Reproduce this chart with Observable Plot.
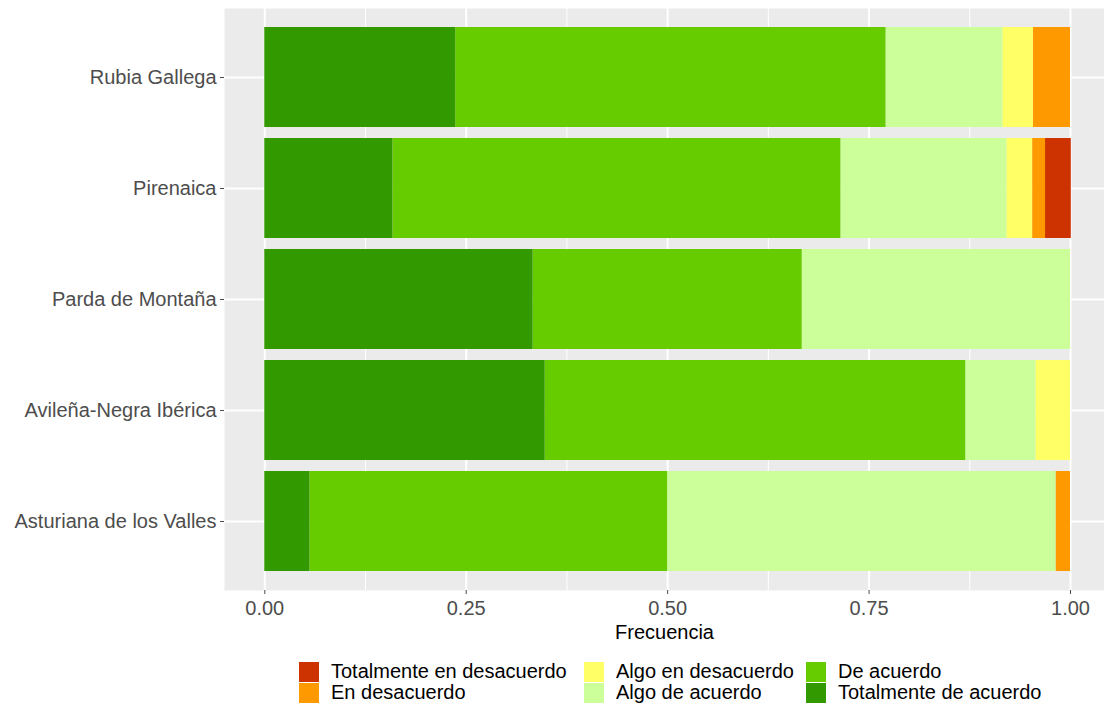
<!DOCTYPE html>
<html><head><meta charset="utf-8">
<script src="https://cdn.jsdelivr.net/npm/d3@7"></script>
<script src="https://cdn.jsdelivr.net/npm/@observablehq/plot@0.6"></script>
<style>
body{margin:0;background:#fff;width:1104px;height:704px;overflow:hidden;position:relative;font-family:"Liberation Sans",Arial,sans-serif;}
#chart{position:absolute;top:0;left:0;}
#legend{position:absolute;top:661px;left:299px;display:grid;grid-template-columns:285px 222px 280px;grid-auto-flow:column;grid-template-rows:21px 21px;}
.item{display:flex;align-items:center;font-size:20px;line-height:21px;color:#000;white-space:nowrap;}
.sw{width:20px;height:20px;margin-right:12px;flex:none;}
</style></head><body>
<div id="chart"></div><div id="legend"></div>
<script>
const breeds = ["Rubia Gallega","Pirenaica","Parda de Montaña","Avileña-Negra Ibérica","Asturiana de los Valles"];
const categories = ["Totalmente en desacuerdo","En desacuerdo","Algo en desacuerdo","Algo de acuerdo","De acuerdo","Totalmente de acuerdo"];
const colors = ["#CC3300","#FF9900","#FFFF66","#CCFF99","#66CC00","#339900"];
// frequencies per breed, in the order of `categories`
const rubiaGallega = [0, 0.046, 0.038, 0.145, 0.534, 0.237];
const pirenaica = [0.032, 0.016, 0.032, 0.206, 0.556, 0.159];
const pardaMontana = [0, 0, 0, 0.333, 0.334, 0.333];
const avilena = [0, 0, 0.043, 0.087, 0.522, 0.348];
const asturiana = [0, 0.018, 0, 0.482, 0.444, 0.056];
const xTicks = [0, 0.25, 0.5, 0.75, 1];
const xMinor = [0.125, 0.375, 0.625, 0.875];

const series = [rubiaGallega, pirenaica, pardaMontana, avilena, asturiana];
const data = [];
breeds.forEach((b, i) => categories.forEach((c, j) => {
  if (series[i][j] > 0) data.push({breed: b, cat: c, value: series[i][j]});
}));

const plot = Plot.plot({
  width: 1104,
  height: 655,
  marginLeft: 224,
  marginRight: 0,
  marginTop: 8,
  marginBottom: 65,
  style: {fontFamily: '"Liberation Sans", Arial, sans-serif', fontSize: "20px", background: "transparent"},
  x: {domain: [-0.05, 1.0422]},
  y: {domain: breeds, paddingInner: 0.1, paddingOuter: 0.15},
  color: {domain: categories, range: colors},
  marks: [
    Plot.frame({fill: "#EBEBEB", stroke: null}),
    Plot.gridX(xMinor, {stroke: "#fff", strokeOpacity: 1, strokeWidth: 1}),
    Plot.gridX(xTicks, {stroke: "#fff", strokeOpacity: 1, strokeWidth: 2}),
    Plot.gridY({stroke: "#fff", strokeOpacity: 1, strokeWidth: 2}),
    Plot.barX(data, {x: "value", y: "breed", fill: "cat", order: categories.slice().reverse()}),
    Plot.axisX(xTicks, {tickSize: 4, tickPadding: 6, tickFormat: d3.format(".2f"), fontSize: 20, color: "#4d4d4d", label: null}),
    Plot.axisY({tickSize: 4, tickPadding: 4, fontSize: 20, color: "#4d4d4d", label: null}),
    Plot.text(["Frecuencia"], {frameAnchor: "bottom", dy: 48, fontSize: 20, fill: "#000"})
  ]
});
document.getElementById("chart").appendChild(plot);

const legend = document.getElementById("legend");
categories.forEach((c, i) => {
  const it = document.createElement("div");
  it.className = "item";
  it.innerHTML = `<span class="sw" style="background:${colors[i]}"></span><span>${c}</span>`;
  legend.appendChild(it);
});
</script>
</body></html>
